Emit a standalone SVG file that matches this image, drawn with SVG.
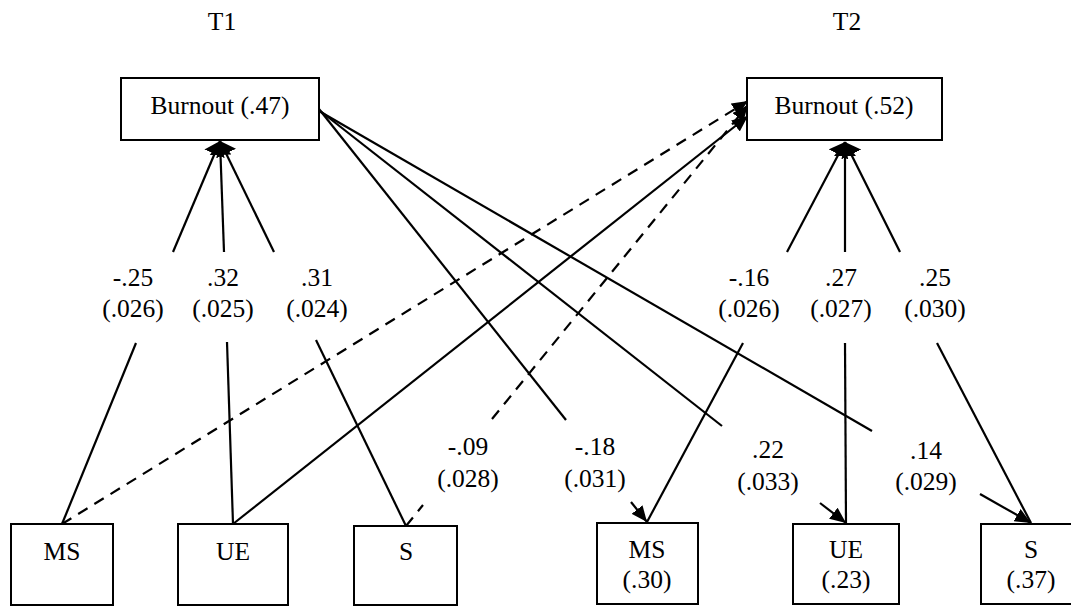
<svg xmlns="http://www.w3.org/2000/svg" width="1071" height="606" viewBox="0 0 1071 606" font-family="'Liberation Serif', 'DejaVu Serif', serif">
  <style>
    text { font-family: 'Liberation Serif', 'DejaVu Serif', serif; font-size: 25.5px; fill: #000; text-anchor: middle; }
    .box { fill: #fff; stroke: #000; stroke-width: 2; }
    .ln { fill: none; stroke: #000; stroke-width: 2.2; }
    .dash { stroke-dasharray: 11 8; }
  </style>
  <defs>
    <marker id="head" viewBox="0 0 16 14" refX="16" refY="7" markerWidth="16" markerHeight="14" markerUnits="userSpaceOnUse" orient="auto">
      <path d="M0,0 L16,7 L0,14 z" fill="#000"/>
    </marker>
    <marker id="headWide" viewBox="0 0 14 22" refX="14" refY="11" markerWidth="14" markerHeight="22" markerUnits="userSpaceOnUse" orient="auto">
      <path d="M0,0 L14,11 L0,22 z" fill="#000"/>
    </marker>
  </defs>
  <rect width="1071" height="606" fill="#fff"/>

  <!-- time labels -->
  <text x="222" y="30">T1</text>
  <text x="847" y="30">T2</text>

  <!-- connectors -->
  <g id="connectors">
    <!-- T1 predictors to T1 burnout (split around coefficient labels) -->
    <line class="ln" x1="136" y1="343" x2="62" y2="524"/>
    <line class="ln" x1="227" y1="342" x2="233" y2="524"/>
    <line class="ln" x1="316" y1="340" x2="406" y2="526"/>
    <line class="ln" x1="173" y1="252" x2="220" y2="141" marker-end="url(#headWide)"/>
    <line class="ln" x1="224" y1="252" x2="220" y2="141" marker-end="url(#headWide)"/>
    <line class="ln" x1="274" y1="252" x2="220" y2="141" marker-end="url(#headWide)"/>

    <!-- T2 predictors to T2 burnout -->
    <line class="ln" x1="743" y1="343" x2="647" y2="522"/>
    <line class="ln" x1="845" y1="343" x2="846" y2="524"/>
    <line class="ln" x1="937" y1="343" x2="1031" y2="523"/>
    <line class="ln" x1="787" y1="252" x2="845" y2="142" marker-end="url(#headWide)"/>
    <line class="ln" x1="845" y1="252" x2="845" y2="142" marker-end="url(#headWide)"/>
    <line class="ln" x1="900" y1="252" x2="845" y2="142" marker-end="url(#headWide)"/>

    <!-- T1 predictors to T2 burnout -->
    <line class="ln dash" x1="62" y1="524" x2="748" y2="101" marker-end="url(#head)"/>
    <line class="ln" x1="233" y1="524" x2="748" y2="116" marker-end="url(#head)"/>
    <line class="ln dash" x1="406" y1="526" x2="423" y2="505"/>
    <line class="ln dash" x1="492" y1="419" x2="748" y2="105" marker-end="url(#head)"/>

    <!-- T1 burnout to T2 predictors -->
    <line class="ln" x1="319" y1="109" x2="566" y2="420"/>
    <line class="ln" x1="631" y1="502" x2="647" y2="522" marker-end="url(#head)"/>
    <line class="ln" x1="319" y1="110" x2="722" y2="426"/>
    <line class="ln" x1="820" y1="503" x2="846" y2="523" marker-end="url(#head)"/>
    <line class="ln" x1="319" y1="111" x2="872" y2="431"/>
    <line class="ln" x1="980" y1="494" x2="1031" y2="523" marker-end="url(#head)"/>
  </g>

  <!-- coefficient labels -->
  <g id="labels">
    <text x="133" y="286">-.25</text><text x="133" y="317">(.026)</text>
    <text x="223" y="286">.32</text><text x="223" y="317">(.025)</text>
    <text x="317" y="286">.31</text><text x="317" y="317">(.024)</text>
    <text x="749" y="286">-.16</text><text x="749" y="317">(.026)</text>
    <text x="841" y="286">.27</text><text x="841" y="317">(.027)</text>
    <text x="935" y="286">.25</text><text x="935" y="317">(.030)</text>
    <text x="468" y="455">-.09</text><text x="468" y="487">(.028)</text>
    <text x="595" y="455">-.18</text><text x="595" y="487">(.031)</text>
    <text x="768" y="458">.22</text><text x="768" y="490">(.033)</text>
    <text x="926" y="459">.14</text><text x="926" y="490">(.029)</text>
  </g>

  <!-- T1 nodes -->
  <g id="burnout-t1">
    <rect class="box" x="121" y="78" width="198" height="62"/>
    <text x="220" y="114">Burnout (.47)</text>
  </g>
  <g id="ms-t1">
    <rect class="box" x="11" y="524" width="102" height="81"/>
    <text x="62" y="560">MS</text>
  </g>
  <g id="ue-t1">
    <rect class="box" x="178" y="524" width="110" height="81"/>
    <text x="233" y="560">UE</text>
  </g>
  <g id="s-t1">
    <rect class="box" x="354" y="526" width="103" height="79"/>
    <text x="406" y="560">S</text>
  </g>

  <!-- T2 nodes -->
  <g id="burnout-t2">
    <rect class="box" x="747" y="78" width="195" height="62"/>
    <text x="844" y="114">Burnout (.52)</text>
  </g>
  <g id="ms-t2">
    <rect class="box" x="597" y="523" width="101" height="81"/>
    <text x="647" y="558">MS</text>
    <text x="647" y="588">(.30)</text>
  </g>
  <g id="ue-t2">
    <rect class="box" x="793" y="524" width="106" height="80"/>
    <text x="846" y="558">UE</text>
    <text x="846" y="588">(.23)</text>
  </g>
  <g id="s-t2">
    <rect class="box" x="981" y="524" width="100" height="80"/>
    <text x="1031" y="558">S</text>
    <text x="1031" y="588">(.37)</text>
  </g>
</svg>
